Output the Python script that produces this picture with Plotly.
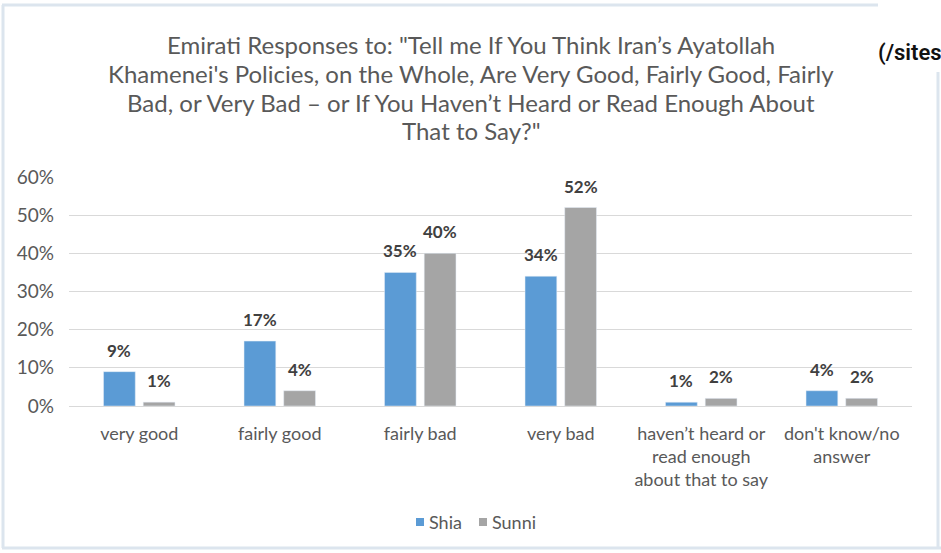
import plotly.graph_objects as go

# Survey answers and the share of each group giving them (percent)
categories = [
    "very good",
    "fairly good",
    "fairly bad",
    "very bad",
    "haven\u2019t heard or<br>read enough<br>about that to say",
    "don't know/no<br>answer",
]
shia = [9, 17, 35, 34, 1, 4]
sunni = [1, 4, 40, 52, 2, 2]
y_ticks = [0, 10, 20, 30, 40, 50, 60]
y_tick_labels = [f"{v}%" for v in y_ticks]

title_lines = [
    "Emirati Responses to: \"Tell me If You Think Iran\u2019s Ayatollah",
    "Khamenei's Policies, on the Whole, Are Very Good, Fairly Good, Fairly",
    "Bad, or Very Bad \u2013 or If You Haven\u2019t Heard or Read Enough About",
    "That to Say?\"",
]

W, H = 941, 553
BLUE = "#5B9BD5"
GREY = "#A5A5A5"
TEXT = "#595959"
LABEL = "#404040"
FONT = "Lato, Open Sans, sans-serif"


def px(x):
    return x / W


def py(y):
    return 1 - y / H


fig = go.Figure()
fig.add_trace(go.Bar(name="Shia", x=categories, y=shia, marker_color=BLUE, showlegend=False))
fig.add_trace(go.Bar(name="Sunni", x=categories, y=sunni, marker_color=GREY, showlegend=False))

annotations = []
# Value labels above each bar
for values, shift in ((shia, -20), (sunni, 20)):
    for cat, v in zip(categories, values):
        annotations.append(dict(
            x=cat, y=v, xref="x", yref="y", text=f"<b>{v}%</b>",
            showarrow=False, xshift=shift, yanchor="bottom", yshift=9,
            font=dict(size=17, color=LABEL, family=FONT),
        ))

# Four-line title, each line placed on its own baseline
for line, yc in zip(title_lines, (44, 73, 102, 130)):
    annotations.append(dict(
        x=px(471), y=py(yc), xref="paper", yref="paper", text=line,
        showarrow=False, xanchor="center", yanchor="middle",
        font=dict(size=24, color=TEXT, family=FONT),
    ))

annotations.append(dict(
    x=px(876), y=py(53), xref="paper", yref="paper", text="(/sites",
    showarrow=False, xanchor="left", yanchor="middle",
    font=dict(size=22, color="#111111", family="Roboto, sans-serif", weight=600),
))

# Legend: coloured squares with series names
legend_items = [("Shia", BLUE, 416), ("Sunni", GREY, 479)]
shapes = []
for name, color, x0 in legend_items:
    shapes.append(dict(type="rect", xref="paper", yref="paper",
                       x0=px(x0), x1=px(x0 + 8), y0=py(526), y1=py(518),
                       fillcolor=color, line=dict(width=0)))
    annotations.append(dict(
        x=px(x0 + 11), y=py(522), xref="paper", yref="paper", text=name,
        showarrow=False, xanchor="left", yanchor="middle",
        font=dict(size=18, color=TEXT, family=FONT),
    ))

BORDER = "#DCE5EE"
shapes += [
    dict(type="line", xref="paper", yref="paper", x0=px(3), x1=px(3), y0=py(5), y1=py(548),
         line=dict(color=BORDER, width=3)),
    dict(type="line", xref="paper", yref="paper", x0=px(2), x1=px(878), y0=py(5), y1=py(5),
         line=dict(color=BORDER, width=3)),
    dict(type="line", xref="paper", yref="paper", x0=px(2), x1=px(941), y0=py(548), y1=py(548),
         line=dict(color=BORDER, width=3)),
    dict(type="line", xref="paper", yref="paper", x0=px(938), x1=px(938), y0=py(72), y1=py(548),
         line=dict(color=BORDER, width=3)),
]

fig.update_layout(
    width=W, height=H,
    margin=dict(l=0, r=0, t=0, b=0, pad=0),
    paper_bgcolor="white", plot_bgcolor="white",
    barmode="group", bargap=0.435, bargroupgap=0.2,
    font=dict(family=FONT, color=TEXT, size=18),
    showlegend=False,
    annotations=annotations,
    shapes=shapes,
    xaxis=dict(domain=[px(69), px(912)], showgrid=False, showline=True, automargin=False,
               linecolor="#D9D9D9", linewidth=1, ticks="", ticklabelstandoff=11,
               tickfont=dict(size=18, color=TEXT), fixedrange=True),
    yaxis=dict(domain=[py(406), py(177)], range=[0, 60], tickvals=y_ticks, automargin=False,
               ticktext=y_tick_labels, showgrid=True, gridcolor="#D9D9D9", gridwidth=1,
               zeroline=False, showline=False, ticks="", ticklabelstandoff=14,
               tickfont=dict(size=19, color=TEXT), fixedrange=True),
)

fig.write_html(
    "out.html",
    config={"displayModeBar": False},
    post_script="document.body.style.margin='0';",
)
